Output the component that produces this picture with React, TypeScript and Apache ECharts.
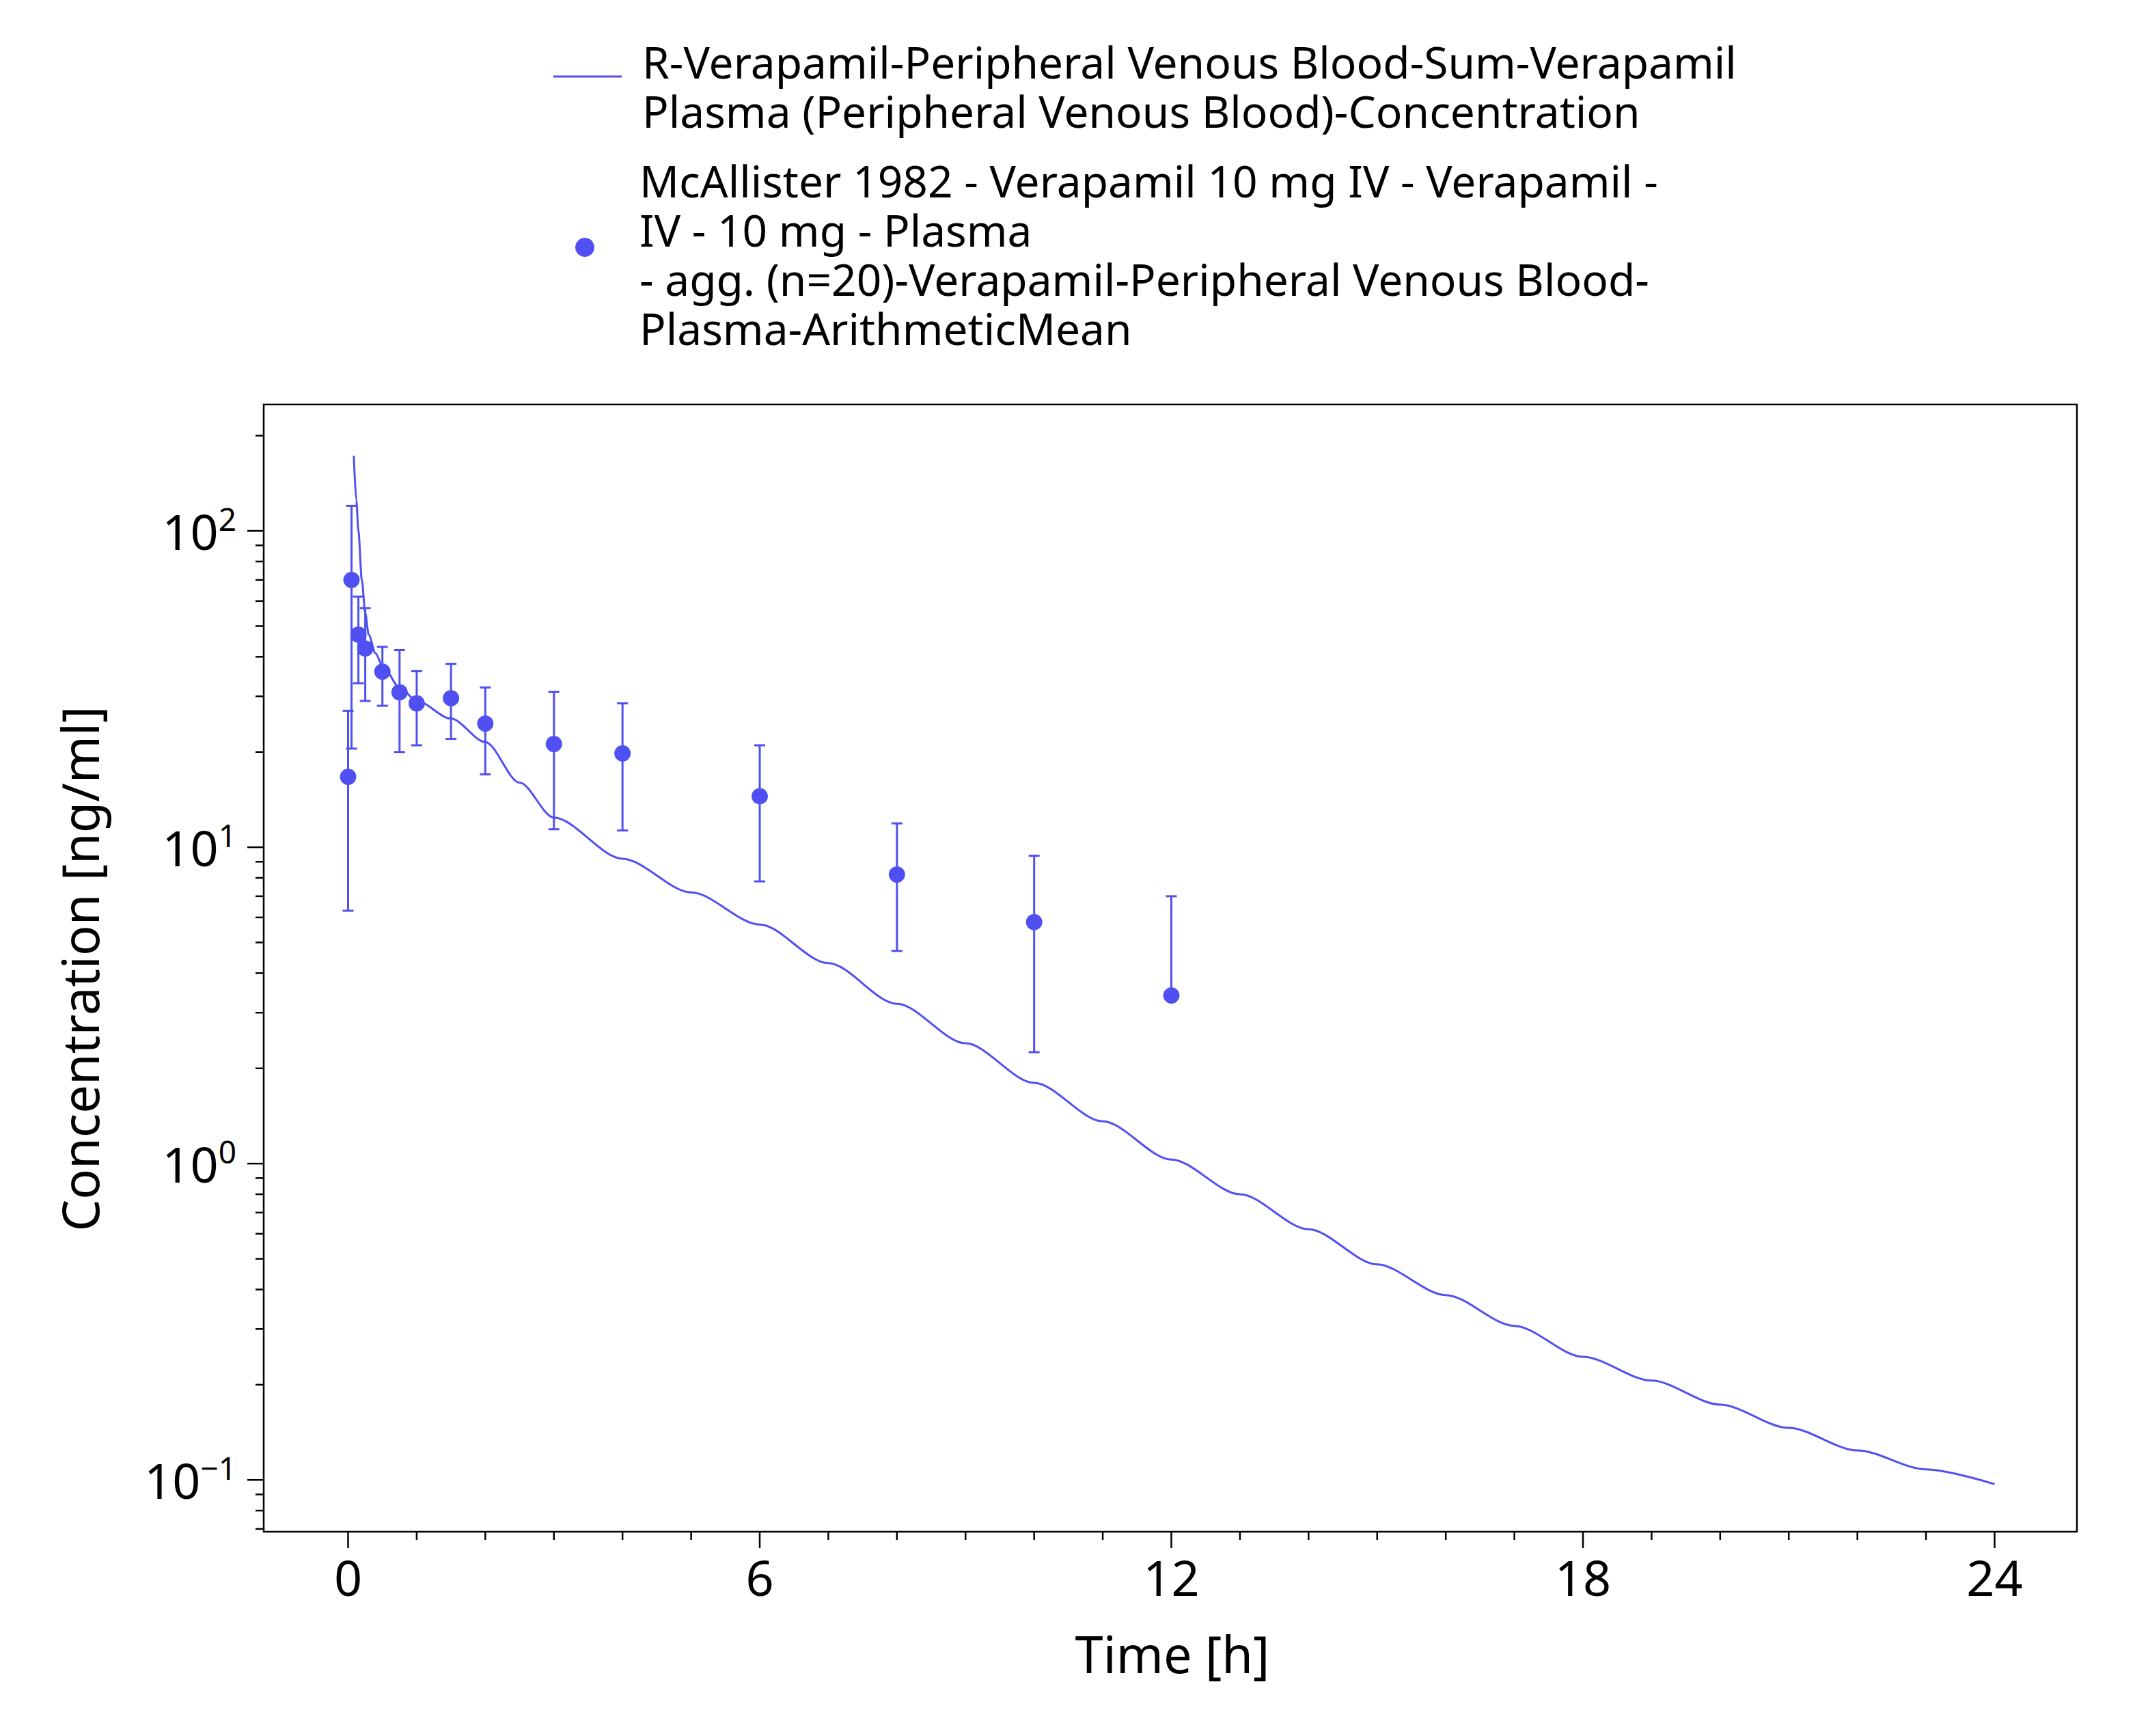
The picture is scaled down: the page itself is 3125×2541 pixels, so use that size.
import { useEffect, useRef } from 'react'
import * as echarts from 'echarts'

const COLOR = '#5050f2'
const FONT = 'Noto Sans'

// simulated curve (time h, ng/ml)
const simTime = [0.083, 0.12, 0.15, 0.2, 0.25, 0.3, 0.4, 0.5, 0.75, 1, 1.5, 2, 2.5, 3, 4, 5, 6, 7, 8, 9, 10, 11, 12, 13, 14, 15, 16, 17, 18, 19, 20, 21, 22, 23, 24]
const simConc = [173, 125, 100, 70, 55, 47, 41, 37.5, 32, 29, 25.5, 21.5, 16.0, 12.4, 9.2, 7.2, 5.7, 4.3, 3.2, 2.4, 1.8, 1.36, 1.03, 0.8, 0.62, 0.48, 0.384, 0.307, 0.245, 0.206, 0.173, 0.146, 0.124, 0.108, 0.097]

// observed means with error bounds
const obsTime = [0.0, 0.05, 0.15, 0.25, 0.5, 0.75, 1, 1.5, 2, 3, 4, 6, 8, 10, 12]
const obsMean = [16.7, 70, 47, 42.5, 35.9, 30.9, 28.5, 29.6, 24.6, 21.2, 19.8, 14.5, 8.2, 5.8, 3.4]
const obsUpper = [27, 120, 62, 57, 43, 42, 36, 38, 32, 31, 28.5, 21, 11.9, 9.4, 7.0]
const obsLower = [6.3, 20.5, 33, 29, 28, 20, 21, 22, 17, 11.4, 11.3, 7.8, 4.7, 2.25, null]

const xMin = -1.23
const xMax = 25.2
const yMin = 0.0686
const yMax = 251
const xMajor = [0, 6, 12, 18, 24]
const xMinor = Array.from({ length: 25 }, (_, i) => i).filter((v) => v % 6 !== 0)
const yExp = [-1, 0, 1, 2]

const yTicks: number[][] = []
for (let e = -2; e <= 2; e++) {
  for (let m = 1; m <= 9; m++) {
    const v = m * Math.pow(10, e)
    if (v >= yMin && v <= yMax) yTicks.push([v, m === 1 ? 1 : 0])
  }
}

const App = () => {
  const ref = useRef<HTMLDivElement>(null)

  useEffect(() => {
    if (!ref.current) return
    const chart = echarts.init(ref.current, undefined, { renderer: 'svg' })
    chart.setOption({
      animation: false,
      grid: { left: 386, right: 85, top: 592, bottom: 299, show: true, borderColor: '#000', borderWidth: 2.5 },
      xAxis: { type: 'value', min: xMin, max: xMax, axisLine: { show: false }, axisTick: { show: false }, axisLabel: { show: false }, splitLine: { show: false } },
      yAxis: { type: 'log', min: yMin, max: yMax, axisLine: { show: false }, axisTick: { show: false }, axisLabel: { show: false }, splitLine: { show: false } },
      graphic: [
        { type: 'line', shape: { x1: 810, y1: 112, x2: 910, y2: 112 }, style: { stroke: COLOR, lineWidth: 3 } },
        { type: 'text', x: 940, y: 54, style: { text: 'R-Verapamil-Peripheral Venous Blood-Sum-Verapamil\nPlasma (Peripheral Venous Blood)-Concentration', font: `64px "${FONT}"`, lineHeight: 72, fill: '#000' } },
        { type: 'circle', shape: { cx: 856, cy: 362, r: 14 }, style: { fill: COLOR } },
        { type: 'text', x: 936, y: 228, style: { text: 'McAllister 1982 - Verapamil 10 mg IV - Verapamil -\nIV - 10 mg - Plasma\n- agg. (n=20)-Verapamil-Peripheral Venous Blood-\nPlasma-ArithmeticMean', font: `64px "${FONT}"`, lineHeight: 72, fill: '#000' } },
        { type: 'text', x: 1716, y: 2420, style: { text: 'Time [h]', font: `74px "${FONT}"`, fill: '#000', align: 'center', verticalAlign: 'middle' } },
        { type: 'text', x: 116, y: 1418, rotation: Math.PI / 2, style: { text: 'Concentration [ng/ml]', font: `74px "${FONT}"`, fill: '#000', align: 'center', verticalAlign: 'middle' } },
      ],
      series: [
        {
          type: 'line', data: simTime.map((t, i) => [t, simConc[i]]), showSymbol: false, smooth: 0.3, smoothMonotone: 'x',
          lineStyle: { color: COLOR, width: 3 }, silent: true,
        },
        {
          type: 'custom', silent: true,
          data: obsTime.map((t, i) => [t, obsMean[i], obsUpper[i], obsLower[i] ?? -1]),
          renderItem: (_p: any, api: any) => {
            const t = api.value(0)
            const up = api.coord([t, api.value(2)])
            const lowVal = api.value(3)
            const low = lowVal > 0 ? api.coord([t, lowVal]) : api.coord([t, api.value(1)])
            const c = api.coord([t, api.value(1)])
            const st = { stroke: COLOR, lineWidth: 3 }
            const els: any[] = [
              { type: 'line', shape: { x1: up[0], y1: up[1], x2: low[0], y2: low[1] }, style: st },
              { type: 'line', shape: { x1: up[0] - 8, y1: up[1], x2: up[0] + 8, y2: up[1] }, style: st },
              { type: 'circle', shape: { cx: c[0], cy: c[1], r: 12 }, style: { fill: COLOR } },
            ]
            if (lowVal > 0) els.push({ type: 'line', shape: { x1: low[0] - 8, y1: low[1], x2: low[0] + 8, y2: low[1] }, style: st })
            return { type: 'group', children: els }
          },
        },
        {
          type: 'custom', silent: true, clip: false,
          data: yTicks,
          renderItem: (_p: any, api: any) => {
            const p = api.coord([xMin, api.value(0)])
            const len = api.value(1) ? 24 : 12
            return { type: 'line', shape: { x1: p[0] - len, y1: p[1], x2: p[0], y2: p[1] }, style: { stroke: '#000', lineWidth: 2.5 } }
          },
        },
        {
          type: 'custom', silent: true, clip: false,
          data: yExp.map((e) => [e]),
          renderItem: (_p: any, api: any) => {
            const e = api.value(0)
            const p = api.coord([xMin, Math.pow(10, e)])
            const sup = e < 0 ? '−' + Math.abs(e) : String(e)
            return {
              type: 'text', x: p[0] - 40, y: p[1],
              style: {
                text: `10{s|${sup}}`, align: 'right', verticalAlign: 'middle', fill: '#000',
                font: `72px "${FONT}"`,
                rich: { s: { fontSize: 46, fontFamily: FONT, verticalAlign: 'top', padding: [0, 0, 36, 0] } },
              },
            }
          },
        },
        {
          type: 'custom', silent: true, clip: false,
          data: [...xMajor.map((v) => [v, 1]), ...xMinor.map((v) => [v, 0])],
          renderItem: (_p: any, api: any) => {
            const v = api.value(0)
            const p = api.coord([v, yMin])
            const major = api.value(1)
            const len = major ? 24 : 12
            const els: any[] = [{ type: 'line', shape: { x1: p[0], y1: p[1], x2: p[0], y2: p[1] + len }, style: { stroke: '#000', lineWidth: 2.5 } }]
            if (major) els.push({ type: 'text', x: p[0], y: p[1] + 66, style: { text: String(v), align: 'center', verticalAlign: 'middle', font: `72px "${FONT}"`, fill: '#000' } })
            return { type: 'group', children: els }
          },
        },
      ],
    })
    return () => chart.dispose()
  }, [])

  return <div ref={ref} style={{ position: 'absolute', left: 0, top: 0, width: 3125, height: 2541, background: '#fff' }} />
}

export default App
